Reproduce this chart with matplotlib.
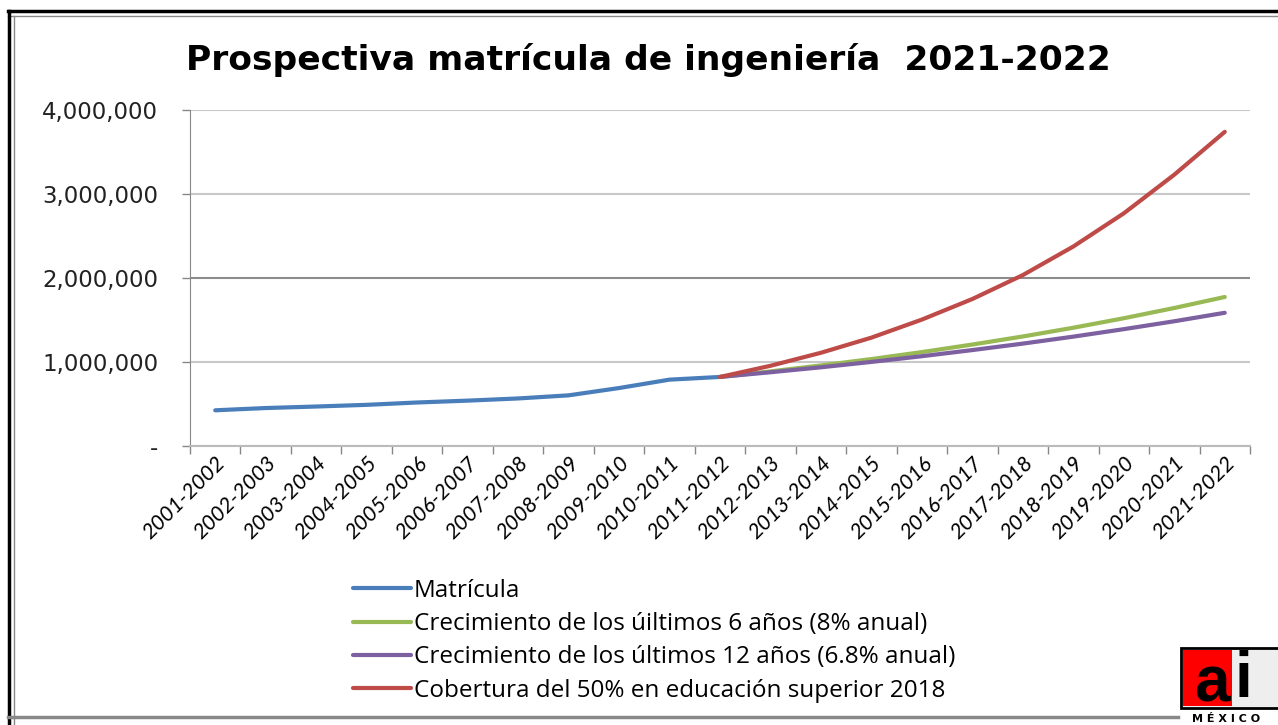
# import libraries
import matplotlib
matplotlib.use('Agg')
import matplotlib.pyplot as plt
from matplotlib.lines import Line2D
from matplotlib.patches import Rectangle
from matplotlib.ticker import FuncFormatter, FixedLocator

# school years
years = ['2001-2002', '2002-2003', '2003-2004', '2004-2005', '2005-2006',
         '2006-2007', '2007-2008', '2008-2009', '2009-2010', '2010-2011',
         '2011-2012', '2012-2013', '2013-2014', '2014-2015', '2015-2016',
         '2016-2017', '2017-2018', '2018-2019', '2019-2020', '2020-2021',
         '2021-2022']

# observed enrolment (2001-2002 .. 2011-2012)
matricula = [425000, 452000, 470000, 490000, 518000, 540000, 566000,
             603000, 690000, 790000, 822000]

# projections (2011-2012 .. 2021-2022)
crec6 = [822000, 888000, 959000, 1035000, 1118000, 1208000, 1304000,
         1408000, 1521000, 1643000, 1774000]
crec12 = [822000, 878000, 937000, 1001000, 1069000, 1142000, 1219000,
          1302000, 1391000, 1485000, 1586000]
cobertura = [822000, 955000, 1110000, 1290000, 1505000, 1750000, 2035000,
             2375000, 2770000, 3230000, 3740000]

labels = ['Matrícula',
          'Crecimiento de los úiltimos 6 años (8% anual)',
          'Crecimiento de los últimos 12 años (6.8% anual)',
          'Cobertura del 50% en educación superior 2018']
colors = ['#4A7EBB', '#98B954', '#7D60A0', '#BE4B48']

fig = plt.figure(figsize=(12.78, 7.25), dpi=100)
ax = fig.add_axes([190 / 1278, 1 - 446 / 725, 1060 / 1278, 336 / 725])

x_hist = list(range(len(matricula)))
x_proj = list(range(len(matricula) - 1, len(years)))

ax.plot(x_hist, matricula, color=colors[0], lw=3, label=labels[0],
        solid_capstyle='round')
ax.plot(x_proj, crec6, color=colors[1], lw=3, label=labels[1],
        solid_capstyle='round')
ax.plot(x_proj, crec12, color=colors[2], lw=3, label=labels[2],
        solid_capstyle='round')
ax.plot(x_proj, cobertura, color=colors[3], lw=3, label=labels[3],
        solid_capstyle='round')

# axes
ax.set_xlim(-0.5, len(years) - 0.5)
ax.set_ylim(0, 4000000)
ax.set_yticks([0, 1000000, 2000000, 3000000, 4000000])
ax.yaxis.set_major_formatter(FuncFormatter(
    lambda v, p: '-' if v == 0 else f'{int(v):,}'))
ax.set_xticks(range(len(years)))
ax.set_xticklabels(years, rotation=45, ha='right', rotation_mode='anchor',
                   fontsize=15.5, family='Lato', style='italic')
ax.xaxis.set_minor_locator(FixedLocator([i - 0.5 for i in range(len(years) + 1)]))
ax.tick_params(axis='x', which='major', length=0, pad=5)
ax.tick_params(axis='x', which='minor', length=5.8, color='#888888', width=1)
ax.tick_params(axis='y', length=5.8, color='#888888', width=1, pad=17,
               labelsize=16.5, labelcolor='#222222')

for s in ['top', 'right']:
    ax.spines[s].set_visible(False)
ax.spines['left'].set_color('#888888')
ax.spines['bottom'].set_color('#BBBBBB')
ax.spines['bottom'].set_linewidth(1.5)

ax.grid(True, axis='y', color='#C8C8C8', lw=1.5)
ax.get_ygridlines()[2].set_color('#8C8C8C')
ax.set_axisbelow(True)

# title
fig.text(648 / 1278, 1 - 60 / 725, 'Prospectiva matrícula de ingeniería  2021-2022',
         ha='center', va='center', fontsize=24.8, fontweight='bold',
         family='DejaVu Sans')

# legend
fig.legend(loc='upper left', bbox_to_anchor=(353 / 1278, 1 - 579 / 725),
           frameon=False, prop={'family': 'Open Sans', 'size': 17.5},
           handlelength=2.4, handletextpad=0.1, labelspacing=0.38,
           borderaxespad=0, borderpad=0)

# outer frame
fig.add_artist(Line2D([8 / 1278, 1], [1 - 11 / 725, 1 - 11 / 725],
                      color='black', lw=2.5, transform=fig.transFigure))
fig.add_artist(Line2D([8 / 1278, 1], [1 - 16 / 725, 1 - 16 / 725],
                      color='#888888', lw=1, transform=fig.transFigure))
fig.add_artist(Line2D([9 / 1278, 9 / 1278], [1 - 11 / 725, 0],
                      color='black', lw=2.5, transform=fig.transFigure))
fig.add_artist(Line2D([14 / 1278, 14 / 1278], [1 - 16 / 725, 0],
                      color='#888888', lw=1, transform=fig.transFigure))
fig.add_artist(Line2D([8 / 1278, 1178 / 1278], [1 - 717 / 725, 1 - 717 / 725],
                      color='#888888', lw=2.5, transform=fig.transFigure))

# logo
fig.add_artist(Rectangle((1181 / 1278, 1 - 708 / 725), 100 / 1278, 60 / 725,
                         facecolor='#EEEEEE', edgecolor='black', lw=2,
                         transform=fig.transFigure))
fig.add_artist(Rectangle((1183 / 1278, 1 - 706 / 725), 49 / 1278, 56 / 725,
                         facecolor='#FF0000', edgecolor='none',
                         transform=fig.transFigure))
fig.text(1212 / 1278, 1 - 684 / 725, 'a', ha='center', va='center',
         fontsize=46, family='Liberation Sans', fontweight='bold', color='black')
fig.text(1243 / 1278, 1 - 680 / 725, 'i', ha='center', va='center',
         fontsize=46, family='Liberation Sans', fontweight='bold', color='black')
fig.text(1192 / 1278, 1 - 719 / 725, 'M É X I C O', ha='left', va='center',
         fontsize=8, fontweight='bold', family='DejaVu Sans')

fig.savefig('out.png', dpi=100)
